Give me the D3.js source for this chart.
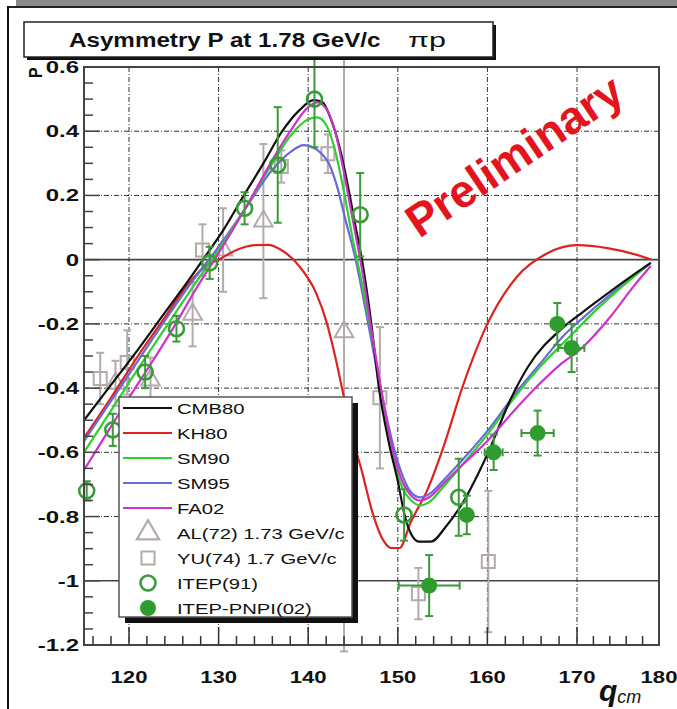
<!DOCTYPE html>
<html>
<head>
<meta charset="utf-8">
<script src="https://cdn.jsdelivr.net/npm/d3@7/dist/d3.min.js"></script>
<style>
  html, body { margin: 0; padding: 0; background: #fff; }
  svg { display: block; }
  text { font-family: "Liberation Sans", Arial, Helvetica, sans-serif; }
</style>
</head>
<body>
<svg id="chart" width="677" height="709"></svg>
<script>
// ---- axis ticks ----
const xTicks = [120, 130, 140, 150, 160, 170, 180];
const yTicks = [0.6, 0.4, 0.2, 0, -0.2, -0.4, -0.6, -0.8, -1, -1.2];
const yTickLabels = ["0.6", "0.4", "0.2", "0", "-0.2", "-0.4", "-0.6", "-0.8", "-1", "-1.2"];

// ---- model curves: [theta_cm, P] ----
const cmb80 = [[115,-0.50],[118,-0.39],[121,-0.28],[124,-0.165],[126.5,-0.07],[128.5,0.01],[130.7,0.10],[132.6,0.19],[135,0.30],[137.1,0.40],[139,0.465],[140.6,0.497],[141.6,0.49],[142.5,0.44],[143.5,0.35],[144.5,0.22],[145.3,0.10],[146,0.0],[147,-0.19],[147.9,-0.40],[149,-0.57],[150,-0.69],[150.8,-0.80],[151.6,-0.86],[152.4,-0.878],[153.7,-0.878],[155.4,-0.83],[157.4,-0.75],[159,-0.665],[160.1,-0.60],[162.5,-0.44],[164.5,-0.335],[168.5,-0.21],[170.7,-0.163],[174,-0.10],[177,-0.045],[179,-0.01]];
const kh80 = [[115,-0.555],[118,-0.43],[121,-0.30],[124,-0.18],[126.5,-0.08],[128.5,-0.02],[130,0.0],[132,0.03],[134,0.045],[135.5,0.046],[137,0.03],[139,-0.02],[140.9,-0.105],[142,-0.19],[143,-0.30],[144,-0.43],[145,-0.56],[146,-0.66],[147.2,-0.79],[148.4,-0.875],[149.3,-0.898],[150.2,-0.898],[151.4,-0.82],[153.3,-0.717],[155.1,-0.583],[157.3,-0.39],[160,-0.20],[163.3,-0.053],[166.7,0.02],[170,0.045],[173.7,0.036],[177.3,0.015],[179.1,0.0]];
const sm90 = [[115,-0.60],[118,-0.47],[121,-0.34],[124,-0.215],[127,-0.09],[130,0.03],[133,0.16],[136,0.30],[138,0.385],[140,0.437],[141,0.443],[142,0.42],[143,0.34],[144,0.21],[145,0.06],[145.6,-0.02],[147,-0.22],[148,-0.39],[149.5,-0.62],[150.5,-0.71],[151.5,-0.75],[152.5,-0.765],[153.5,-0.755],[155,-0.71],[157,-0.645],[160,-0.545],[163,-0.43],[166,-0.33],[169,-0.245],[172,-0.165],[175,-0.095],[179,-0.01]];
const sm95 = [[115,-0.565],[118,-0.44],[121,-0.315],[124,-0.19],[127,-0.07],[130,0.04],[133,0.16],[136,0.28],[138,0.335],[139.5,0.357],[140.5,0.35],[141.5,0.33],[142.3,0.30],[143.2,0.23],[144.2,0.12],[145.3,0.0],[146.5,-0.17],[148,-0.39],[149.5,-0.58],[150.5,-0.67],[151.5,-0.725],[152.5,-0.74],[153.5,-0.73],[155,-0.69],[157,-0.63],[160.1,-0.53],[163.3,-0.41],[166,-0.32],[168.4,-0.24],[171,-0.175],[174,-0.11],[177,-0.05],[179,-0.01]];
const fa02 = [[115,-0.655],[118,-0.52],[120,-0.43],[123,-0.30],[125,-0.21],[127.5,-0.09],[130,0.02],[133,0.16],[136,0.31],[138,0.40],[140,0.475],[141,0.49],[142,0.47],[143,0.40],[144,0.27],[145,0.12],[146,-0.03],[147,-0.21],[148,-0.38],[149.5,-0.60],[150.5,-0.69],[151.5,-0.735],[152.5,-0.75],[153.5,-0.74],[155,-0.70],[157,-0.645],[160,-0.565],[163,-0.47],[165,-0.41],[168,-0.33],[170.6,-0.275],[174,-0.18],[177,-0.08],[179,-0.02]];

// ---- measurements ----
// AL(72) 1.73 GeV/c: [theta, P, dP]
const al72 = [[118.5,-0.385,0.07],[122.4,-0.375,0.07],[127.1,-0.17,0.10],[130.5,0.03,0.13],[135,0.12,0.24],[144,-0.225,0.995]];
// YU(74) 1.7 GeV/c: [theta, P, dP]
const yu74 = [[116.8,-0.37,0.08],[119.8,-0.32,0.10],[128.2,0.03,0.08],[137,0.29,0.05],[142.2,0.33,0.06],[148,-0.43,0.22],[152.3,-1.04,0.08],[160.1,-0.94,0.22]];
// ITEP(91): [theta, P, dP]
const itep91 = [[115.3,-0.72,0.03],[118.2,-0.53,0.05],[121.8,-0.35,0.05],[125.3,-0.215,0.04],[129,-0.01,0.05],[132.9,0.16,0.05],[136.6,0.295,0.18],[140.7,0.50,0.15],[145.8,0.14,0.13],[150.7,-0.795,0.08],[156.8,-0.74,0.12]];
// ITEP-PNPI(02): [theta, P, dtheta, dP]
const itepPnpi02 = [[153.5,-1.015,3.4,0.095],[157.7,-0.795,0.6,0.06],[160.7,-0.60,1.0,0.055],[165.6,-0.54,1.8,0.07],[167.8,-0.20,0.6,0.065],[169.4,-0.275,1.5,0.075]];

const models = [
  { name: "CMB80", data: cmb80, color: "#111111" },
  { name: "KH80",  data: kh80,  color: "#dd2222" },
  { name: "SM90",  data: sm90,  color: "#2fcf2f" },
  { name: "SM95",  data: sm95,  color: "#6a6ad6" },
  { name: "FA02",  data: fa02,  color: "#cc33cc" }
];
const drawOrder = ["KH80", "SM95", "SM90", "CMB80", "FA02"];

const grayMark = "#b3abab";
const greenMark = "#3a9a3a";

const svg = d3.select("#chart");

// page frame: grey strip on top, black rule on the left
svg.append("rect").attr("x", 16).attr("y", 0).attr("width", 661).attr("height", 6).attr("fill", "#8a8a8a");
svg.append("line").attr("x1", 8).attr("x2", 677).attr("y1", 7).attr("y2", 7).attr("stroke", "#222").attr("stroke-width", 2);
svg.append("line").attr("x1", 8).attr("x2", 8).attr("y1", 6).attr("y2", 709).attr("stroke", "#111").attr("stroke-width", 2);

const x = d3.scaleLinear().domain([115, 120, 170, 180]).range([84, 129, 577, 659]);
const y = d3.scaleLinear().domain([-1.2, 0.6]).range([645, 67]);
const X0 = 84, X1 = 659, Y0 = 645, Y1 = 67;

// horizontally widened text (the labels are drawn in a wide face)
function wideText(parent, px, py, sx, str) {
  return parent.append("text").attr("transform", `translate(${px},${py}) scale(${sx},1)`).text(str);
}

// title box with shadow
svg.append("rect").attr("x", 27).attr("y", 25).attr("width", 469).attr("height", 35).attr("fill", "#111");
svg.append("rect").attr("x", 24).attr("y", 22).attr("width", 469).attr("height", 35)
  .attr("fill", "#fff").attr("stroke", "#222").attr("stroke-width", 1.5);
wideText(svg, 69, 47, 1.21, "Asymmetry P at 1.78 GeV/c")
  .attr("font-size", 20).attr("font-weight", "bold").attr("fill", "#111");
wideText(svg, 408, 47, 1.45, "πp")
  .attr("font-family", "'DejaVu Serif', 'Liberation Serif', serif")
  .attr("font-size", 21).attr("fill", "#111");

// grid
const grid = svg.append("g");
const gridY = yTicks.filter(v => v > -1.2 && v < 0.6);
grid.selectAll("line.h").data(gridY).join("line")
  .attr("x1", X0).attr("x2", X1).attr("y1", d => y(d)).attr("y2", d => y(d))
  .attr("stroke", d => (d === 0 || d === -1) ? "#444" : "#333")
  .attr("stroke-width", d => (d === 0 || d === -1) ? 1.6 : 1)
  .attr("stroke-dasharray", d => (d === 0 || d === -1) ? null : "5,2,1,2");
grid.selectAll("line.v").data(xTicks.filter(v => v < 180)).join("line")
  .attr("x1", d => x(d)).attr("x2", d => x(d)).attr("y1", Y1).attr("y2", Y0)
  .attr("stroke", "#333").attr("stroke-width", 1).attr("stroke-dasharray", "5,2,1,2");

// error bars are cut a little beyond the frame
svg.append("clipPath").attr("id", "errClip").append("rect")
  .attr("x", X0 - 10).attr("y", 60).attr("width", X1 - X0 + 20).attr("height", 593);

// error bar helpers with end caps
function vbar(g, cx, yLo, yHi, color, w) {
  g.append("line").attr("x1", cx).attr("x2", cx).attr("y1", yLo).attr("y2", yHi)
    .attr("stroke", color).attr("stroke-width", w);
  [yLo, yHi].forEach(v => g.append("line").attr("x1", cx - 4).attr("x2", cx + 4).attr("y1", v).attr("y2", v)
    .attr("stroke", color).attr("stroke-width", w));
}
function hbar(g, cy, xLo, xHi, color, w) {
  g.append("line").attr("x1", xLo).attr("x2", xHi).attr("y1", cy).attr("y2", cy)
    .attr("stroke", color).attr("stroke-width", w);
  [xLo, xHi].forEach(v => g.append("line").attr("x1", v).attr("x2", v).attr("y1", cy - 4).attr("y2", cy + 4)
    .attr("stroke", color).attr("stroke-width", w));
}

const marks = svg.append("g").attr("clip-path", "url(#errClip)");
const triPath = d3.symbol().type(d3.symbolTriangle).size(150)();
const sqPath = d3.symbol().type(d3.symbolSquare).size(170)();

// AL(72) triangles
al72.forEach(([t, p, e]) => {
  const g = marks.append("g");
  vbar(g, x(t), y(p - e), y(p + e), grayMark, 2);
  g.append("path").attr("d", triPath).attr("transform", `translate(${x(t)},${y(p)})`)
    .attr("fill", "none").attr("stroke", grayMark).attr("stroke-width", 2);
});
// YU(74) squares
yu74.forEach(([t, p, e]) => {
  const g = marks.append("g");
  vbar(g, x(t), y(p - e), y(p + e), grayMark, 2);
  g.append("path").attr("d", sqPath).attr("transform", `translate(${x(t)},${y(p)})`)
    .attr("fill", "none").attr("stroke", grayMark).attr("stroke-width", 2);
});

// model curves
const line = d3.line().x(d => x(d[0])).y(d => y(d[1])).curve(d3.curveMonotoneX);
const curves = svg.append("g");
drawOrder.forEach(n => {
  const m = models.find(mm => mm.name === n);
  curves.append("path").attr("d", line(m.data)).attr("fill", "none")
    .attr("stroke", m.color).attr("stroke-width", 2.2).attr("stroke-linejoin", "round");
});

// ITEP(91) open circles
const greenG = svg.append("g").attr("clip-path", "url(#errClip)");
itep91.forEach(([t, p, e]) => {
  const g = greenG.append("g");
  vbar(g, x(t), y(p - e), y(p + e), greenMark, 2);
  g.append("circle").attr("cx", x(t)).attr("cy", y(p)).attr("r", 7.5)
    .attr("fill", "none").attr("stroke", greenMark).attr("stroke-width", 2.6);
});
// ITEP-PNPI(02) filled circles
itepPnpi02.forEach(([t, p, et, e]) => {
  const g = greenG.append("g");
  vbar(g, x(t), y(p - e), y(p + e), greenMark, 2);
  hbar(g, y(p), x(t - et), x(t + et), greenMark, 2);
  g.append("circle").attr("cx", x(t)).attr("cy", y(p)).attr("r", 8).attr("fill", "#2e9c2e");
});

// frame and axes
const axes = svg.append("g");
axes.append("rect").attr("x", X0).attr("y", Y1).attr("width", X1 - X0).attr("height", Y0 - Y1)
  .attr("fill", "none").attr("stroke", "#444").attr("stroke-width", 2);

// y ticks (minor every 0.05, major every 0.2)
const yMinor = d3.range(-1.2, 0.6001, 0.05).map(v => +v.toFixed(2));
axes.selectAll("line.ym").data(yMinor).join("line")
  .attr("x1", X0).attr("x2", d => X0 + (Math.abs(Math.round(d * 100) % 20) === 0 ? 16 : 9))
  .attr("y1", d => y(d)).attr("y2", d => y(d)).attr("stroke", "#444").attr("stroke-width", 1.5);
// x ticks (minor every 2, major every 10)
const xMinor = d3.range(116, 180, 2);
axes.selectAll("line.xm").data(xMinor).join("line")
  .attr("x1", d => x(d)).attr("x2", d => x(d)).attr("y1", Y0)
  .attr("y2", d => Y0 - (d % 10 === 0 ? 18 : 9)).attr("stroke", "#333").attr("stroke-width", 1.5);

yTicks.forEach((v, i) => {
  wideText(axes, 79, y(v) + 6, 1.5, yTickLabels[i])
    .attr("text-anchor", "end").attr("font-size", 16).attr("font-weight", "bold").attr("fill", "#111");
});
xTicks.forEach(v => {
  wideText(axes, x(v), 683, 1.3, String(v))
    .attr("text-anchor", "middle").attr("font-size", 17).attr("font-weight", "bold").attr("fill", "#111");
});

// axis titles
svg.append("text").attr("transform", "translate(42,78) rotate(-90) scale(1,1.2)")
  .attr("font-size", 16).attr("font-weight", "bold").attr("fill", "#111").text("P");
const xt = svg.append("text").attr("x", 599).attr("y", 701)
  .attr("font-family", "'Liberation Serif', 'Times New Roman', serif").attr("font-style", "italic").attr("fill", "#111");
xt.append("tspan").attr("font-size", 30).attr("font-weight", "bold").text("q");
xt.append("tspan").attr("font-size", 18).attr("dy", 2).text("cm");

// watermark
svg.append("text").attr("transform", "translate(523,169) rotate(-34)")
  .attr("text-anchor", "middle").attr("font-size", 46).attr("font-weight", "bold")
  .attr("fill", "#e3141c").text("Preliminary");

// legend with shadow
const L = { x: 119, y: 397, w: 233, h: 220 };
svg.append("rect").attr("x", L.x + 6).attr("y", L.y + 6).attr("width", L.w).attr("height", L.h).attr("fill", "#111");
svg.append("rect").attr("x", L.x).attr("y", L.y).attr("width", L.w).attr("height", L.h)
  .attr("fill", "#fff").attr("stroke", "#555").attr("stroke-width", 1.5);
const leg = svg.append("g");
const rowY = i => 408 + i * 25;
models.forEach((m, i) => {
  leg.append("line").attr("x1", 123).attr("x2", 172).attr("y1", rowY(i)).attr("y2", rowY(i))
    .attr("stroke", m.color).attr("stroke-width", 2);
  wideText(leg, 177, rowY(i) + 6, 1.35, m.name).attr("font-size", 15).attr("fill", "#111");
});
const legMarks = ["AL(72) 1.73 GeV/c", "YU(74) 1.7 GeV/c", "ITEP(91)", "ITEP-PNPI(02)"];
legMarks.forEach((t, k) => {
  wideText(leg, 177, rowY(5 + k) + 6, 1.35, t).attr("font-size", 15).attr("fill", "#111");
});
leg.append("path").attr("d", triPath).attr("transform", `translate(148,${rowY(5)}) scale(1.2)`)
  .attr("fill", "none").attr("stroke", grayMark).attr("stroke-width", 1.8);
leg.append("path").attr("d", sqPath).attr("transform", `translate(148,${rowY(6)})`)
  .attr("fill", "none").attr("stroke", grayMark).attr("stroke-width", 2);
leg.append("circle").attr("cx", 148).attr("cy", rowY(7)).attr("r", 7.5)
  .attr("fill", "none").attr("stroke", greenMark).attr("stroke-width", 2.6);
leg.append("circle").attr("cx", 148).attr("cy", rowY(8)).attr("r", 8).attr("fill", "#2e9c2e");
</script>
</body>
</html>
